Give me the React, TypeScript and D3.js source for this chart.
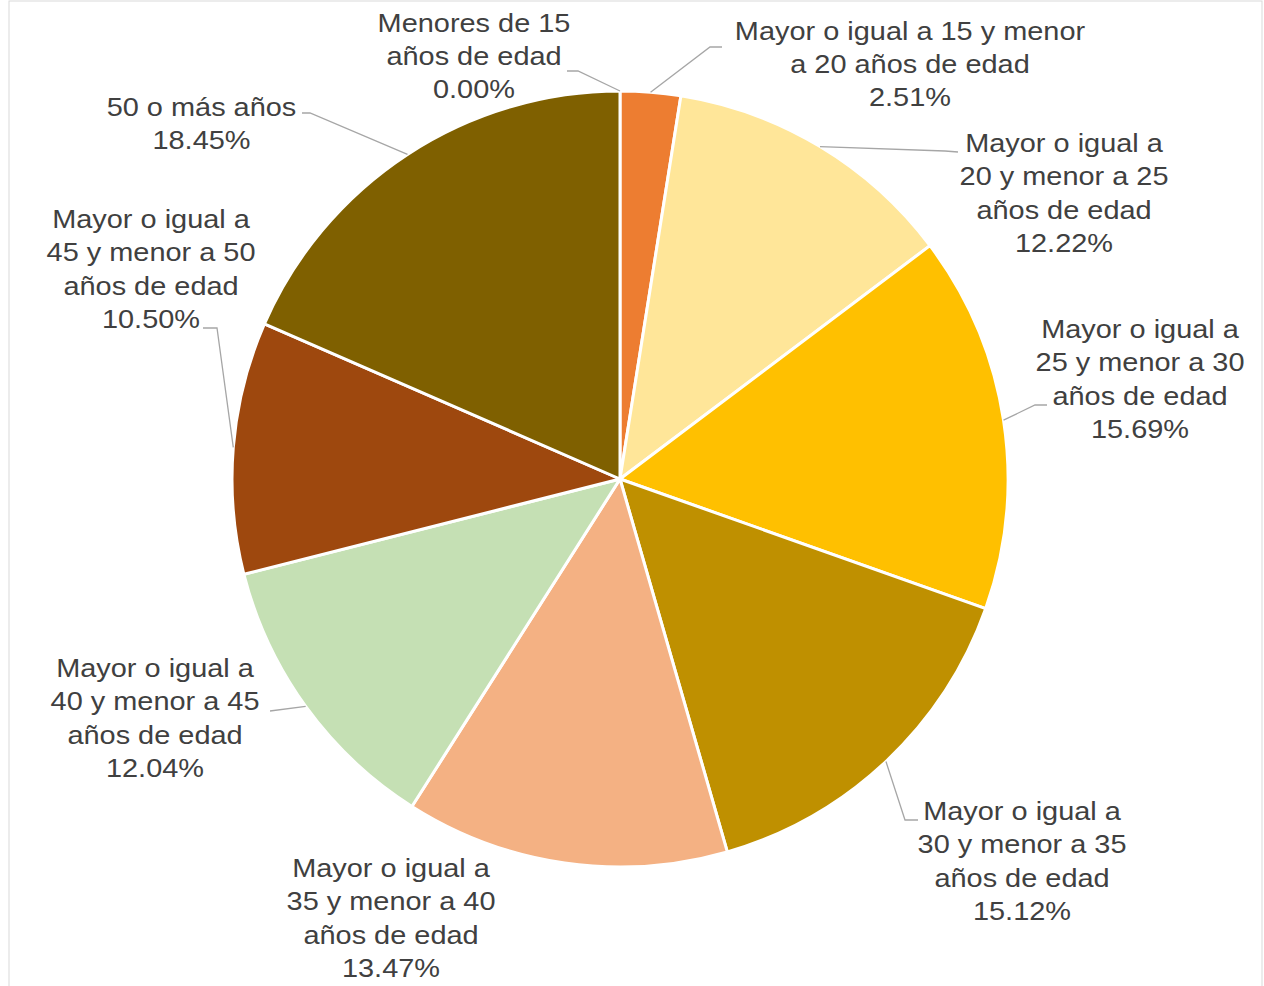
import React from "react";
import * as d3 from "d3";

const categories = [
  "Menores de 15 años de edad",
  "Mayor o igual a 15 y menor a 20 años de edad",
  "Mayor o igual a 20 y menor a 25 años de edad",
  "Mayor o igual a 25 y menor a 30 años de edad",
  "Mayor o igual a 30 y menor a 35 años de edad",
  "Mayor o igual a 35 y menor a 40 años de edad",
  "Mayor o igual a 40 y menor a 45 años de edad",
  "Mayor o igual a 45 y menor a 50 años de edad",
  "50 o más años",
];
const values = [0.0, 2.51, 12.22, 15.69, 15.12, 13.47, 12.04, 10.5, 18.45];
const colors = ["#4472C4", "#ED7D31", "#FFE699", "#FFC000", "#BF9000", "#F4B183", "#C5E0B4", "#9E480E", "#7F6000"];

// label text lines (wrapped as in reference)
const labelLines = [
  ["Menores de 15", "años de edad"],
  ["Mayor o igual a 15 y menor", "a 20 años de edad"],
  ["Mayor o igual a", "20 y menor a 25", "años de edad"],
  ["Mayor o igual a", "25 y menor a 30", "años de edad"],
  ["Mayor o igual a", "30 y menor a 35", "años de edad"],
  ["Mayor o igual a", "35 y menor a 40", "años de edad"],
  ["Mayor o igual a", "40 y menor a 45", "años de edad"],
  ["Mayor o igual a", "45 y menor a 50", "años de edad"],
  ["50 o más años"],
];

// layout: label center x, first baseline y, leader elbow points
const labelPos = [
  { x: 474, y: 31.5, leader: [[578, 71], [567, 71]] },
  { x: 910, y: 39.5, leader: [[710, 47], [722, 47]] },
  { x: 1064, y: 151.7, leader: [[945, 151], [958, 152]] },
  { x: 1140, y: 338, leader: [[1035, 405], [1047, 405]] },
  { x: 1022, y: 820, leader: [[905, 820], [918, 820]] },
  { x: 391, y: 877, leader: null },
  { x: 155, y: 677, leader: [[270, 711]] },
  { x: 151, y: 228, leader: [[217, 328], [203, 328]] },
  { x: 201.5, y: 116, leader: [[310, 113], [302, 113]] },
];

const W = 1264;
const H = 986;
const cx = 620;
const cy = 479;
const R = 388;
const FS = 25.6;
const LH = 33.5;
const SX = 1.13;

export default function App() {
  const pie = d3.pie<number>().value((d) => d).sort(null).startAngle(0).endAngle(2 * Math.PI);
  const arcs = pie(values);
  const arcGen = d3.arc<d3.PieArcDatum<number>>().innerRadius(0).outerRadius(R);
  const fmt = d3.format(".2f");

  return (
    <svg width={W} height={H} style={{ position: "absolute", left: 0, top: 0 }}>
      <rect x={0} y={0} width={W} height={H} fill="#ffffff" />
      <rect x={9} y={1} width={1253} height={H + 4} fill="none" stroke="#d9d9d9" strokeWidth={1} />
      <g transform={`translate(${cx},${cy})`}>
        {arcs.map((a, i) => (
          <path key={i} d={arcGen(a) || ""} fill={colors[i]} stroke="#ffffff" strokeWidth={a.value > 0 ? 3 : 0} strokeLinejoin="round" />
        ))}
      </g>
      {arcs.map((a, i) => {
        const lp = labelPos[i];
        if (!lp.leader) return null;
        const mid = (a.startAngle + a.endAngle) / 2;
        const sx = cx + R * Math.sin(mid);
        const sy = cy - R * Math.cos(mid);
        const pts = [[sx, sy], ...lp.leader];
        return (
          <polyline key={"l" + i} points={pts.map((p) => p.join(",")).join(" ")} fill="none" stroke="#a6a6a6" strokeWidth={1.3} />
        );
      })}
      {arcs.map((a, i) => {
        const lp = labelPos[i];
        const lines = [...labelLines[i], `${fmt(values[i])}%`];
        return (
          <g key={"t" + i} transform={`translate(${lp.x},${lp.y}) scale(${SX},1)`}>
            <text textAnchor="middle" fontFamily="'Liberation Sans', Arial, sans-serif" fontSize={FS} fill="#404040">
              {lines.map((ln, j) => (
                <tspan key={j} x={0} y={j * LH}>
                  {ln}
                </tspan>
              ))}
            </text>
          </g>
        );
      })}
    </svg>
  );
}
